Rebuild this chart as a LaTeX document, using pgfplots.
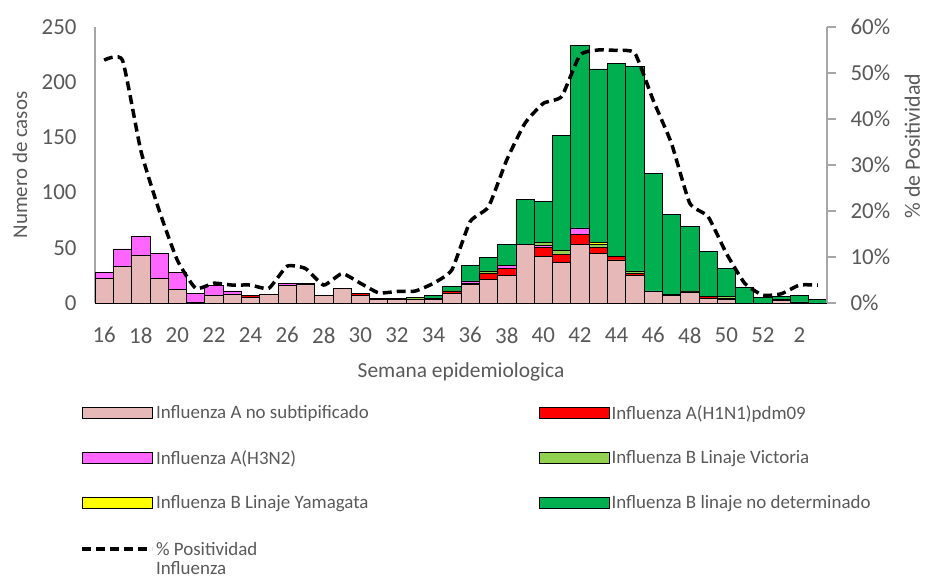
\documentclass[border=0pt]{standalone}
\usepackage{pgfplots}
\pgfplotsset{compat=1.18}
\usepackage{pgfplotstable}
\usepackage{fontspec}
\setmainfont{Carlito}
\definecolor{txtgray}{HTML}{595959}
\definecolor{axgray}{HTML}{A6A6A6}
\definecolor{cpink}{HTML}{E6B9B8}
\definecolor{cred}{HTML}{FF0000}
\definecolor{cmag}{HTML}{FF66FF}
\definecolor{cvic}{HTML}{92D050}
\definecolor{cyam}{HTML}{FFFF00}
\definecolor{cgreen}{HTML}{00B050}
\pgfplotsset{
  mybarlegend/.style={legend image code/.code={\draw[##1] (0bp,-5.5bp) rectangle (70bp,5.5bp);}},
  mylinelegend/.style={legend image code/.code={\draw[##1] (0bp,0bp) -- (70bp,0bp);}},
}

\pgfplotstableread{
i week pink red mag vic yam green pos
0 16 22 0 6 0 0 0 52.8
1 17 33 0 16 0 0 0 52.8
2 18 43 0 17 0 0 0 33.2
3 19 22 0 23 0 0 0 20.2
4 20 12 0 16 0 0 0 9.3
5 21 1 0 8 0 0 0 3.2
6 22 7 0 9 0 0 0 4.3
7 23 8 0 3 0 0 0 3.9
8 24 5 2 0 0 0 0 3.9
9 25 8 0 0 0 0 0 3.2
10 26 16 0 2 0 0 0 8.0
11 27 17 1 0 0 0 0 7.5
12 28 7 0 0 0 0 0 3.9
13 29 13 0 0 0 0 0 6.4
14 30 7 2 0 0 0 0 4.3
15 31 3 1 0 0 0 0 2.2
16 32 3 1 0 0 0 0 2.5
17 33 3 0 0 2 0 0 2.6
18 34 3 1 0 0 0 3 4.3
19 35 9 2 0 0 0 4 7.2
20 36 17 1 2 0 0 14 17.7
21 37 21 6 0 2 0 12 20.9
22 38 25 6 3 0 0 19 31.1
23 39 53 0 0 0 0 41 39.1
24 40 42 8 2 3 0 37 43.4
25 41 37 7 0 4 0 104 44.9
26 42 53 9 6 0 0 165 53.9
27 43 45 5 0 3 2 157 55.0
28 44 39 3 0 0 0 175 54.9
29 45 25 2 0 2 0 185 54.3
30 46 11 0 0 0 0 106 44.1
31 47 7 1 0 0 0 72 34.7
32 48 10 1 0 0 0 58 21.7
33 49 4 2 0 0 0 41 18.8
34 50 3 1 0 2 0 25 10.8
35 51 0 0 0 0 0 14 4.3
36 52 0 0 0 0 0 5 1.7
37 1 2 1 0 0 0 3 2.0
38 2 1 0 0 0 0 6 3.9
39 3 0 0 0 0 0 3 3.9
}\datatable

\begin{document}
\begin{tikzpicture}
\path[use as bounding box] (-95bp,-280bp) rectangle (830bp,303bp);
\begin{axis}[
  scale only axis, width=732bp, height=276bp,
  xmin=-0.5, xmax=39.5, ymin=0, ymax=250,
  ybar stacked, bar width=1,
  axis x line*=bottom, axis y line*=left,
  axis line style={draw=axgray, line width=1.2bp, -},
  xtick={0,2,...,38},
  xticklabels={16,18,20,22,24,26,28,30,32,34,36,38,40,42,44,46,48,50,52,2},
  ytick={0,50,...,250},
  major tick length=0pt,
  tick style={draw=none},
  /pgf/number format/assume math mode=true,
  tick label style={font=\fontsize{23}{26}\selectfont, text=txtgray},
  xticklabel style={yshift=-21bp},
  yticklabel style={xshift=-15bp},
  ylabel={Numero de casos},
  ylabel style={at={(axis description cs:-0.1025,0.5)}, anchor=center, font=\fontsize{21}{24}\selectfont, text=txtgray},
  xlabel={Semana epidemiologica},
  xlabel style={at={(axis description cs:0.5,-0.25)}, anchor=center, font=\fontsize{21.5}{24}\selectfont, text=txtgray},
  every axis plot/.append style={draw=black, line width=0.7bp},
  mybarlegend,
  legend columns=2,
  legend cell align=left,
  legend style={draw=none, fill=none, at={(axis description cs:-0.024,-0.355)}, anchor=north west,
    font=\fontsize{19}{22}\selectfont, text=txtgray, row sep=26bp,
    /tikz/every even column/.append style={column sep=168bp}},
]
\addplot[fill=cpink] table[x=i, y=pink] {\datatable};
\addlegendentry{Influenza A no subtipificado}
\addplot[fill=cred] table[x=i, y=red] {\datatable};
\addlegendentry{Influenza A(H1N1)pdm09}
\addplot[fill=cmag] table[x=i, y=mag] {\datatable};
\addlegendentry{Influenza A(H3N2)}
\addplot[fill=cvic] table[x=i, y=vic] {\datatable};
\addlegendentry{Influenza B Linaje Victoria}
\addplot[fill=cyam] table[x=i, y=yam] {\datatable};
\addlegendentry{Influenza B Linaje Yamagata}
\addplot[fill=cgreen] table[x=i, y=green] {\datatable};
\addlegendentry{Influenza B linaje no determinado}
\addlegendimage{mylinelegend, black, line width=3.5bp, dash pattern=on 9bp off 5bp}
\addlegendentry{\begin{tabular}[t]{@{}l@{}}\% Positividad\\[-3bp]Influenza\end{tabular}}
\end{axis}
\begin{axis}[
  scale only axis, width=732bp, height=276bp,
  xmin=-0.5, xmax=39.5, ymin=0, ymax=60,
  axis x line=none, axis y line*=right,
  axis line style={draw=axgray, line width=1.2bp, -},
  ytick={0,10,...,60},
  yticklabel={\pgfmathprintnumber{\tick}\%},
  major tick length=9bp,
  tick align=outside,
  tick style={draw=axgray, line width=1.2bp},
  /pgf/number format/assume math mode=true,
  tick label style={font=\fontsize{23}{26}\selectfont, text=txtgray},
  yticklabel style={xshift=11bp},
  ylabel={\% de Positividad},
  ylabel style={at={(axis description cs:1.1165,0.569)}, anchor=center, font=\fontsize{22}{25}\selectfont, text=txtgray},
]
\addplot[black, line width=3.5bp, dash pattern=on 9bp off 5bp, smooth, tension=0.3, mark=none] table[x=i, y=pos] {\datatable};
\end{axis}
\end{tikzpicture}
\end{document}
